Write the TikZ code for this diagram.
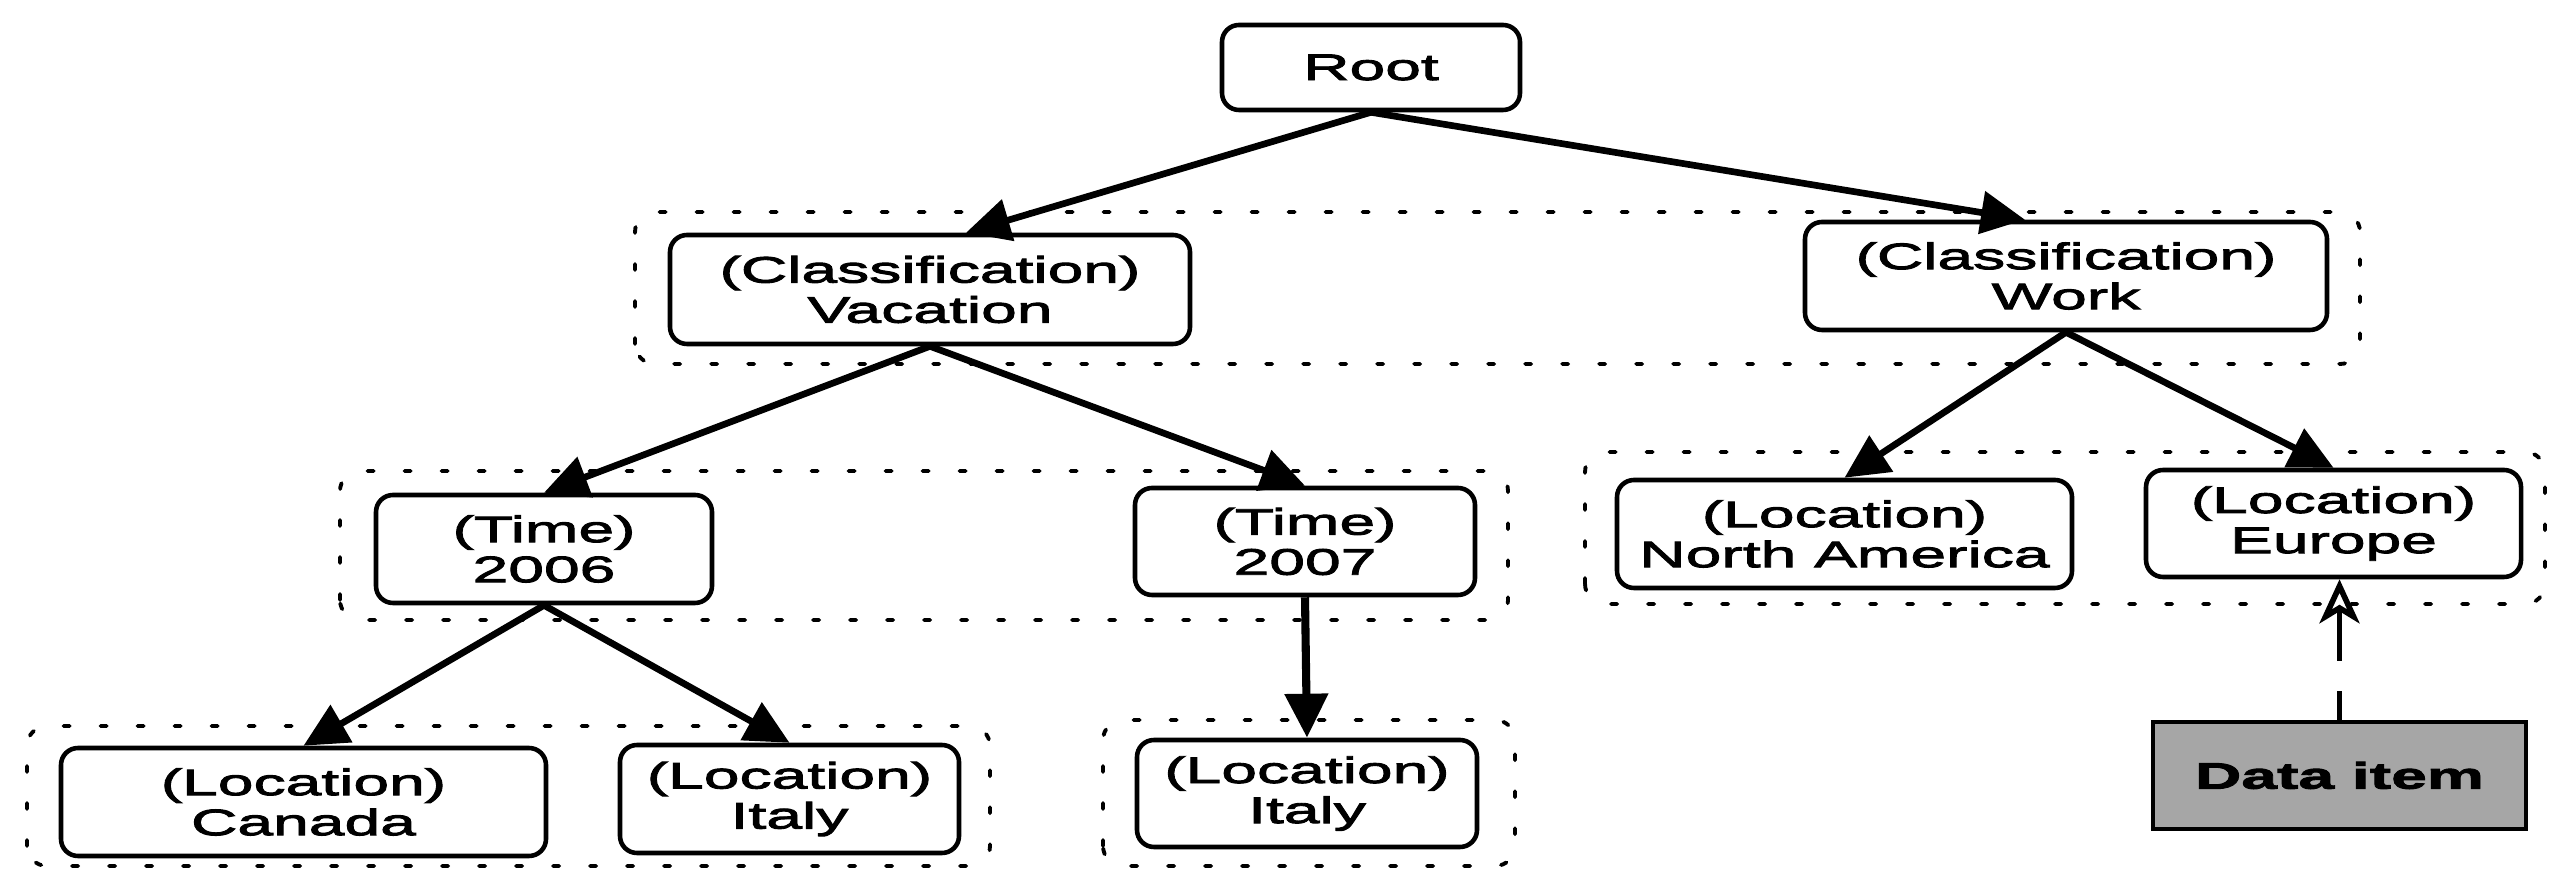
\documentclass[tikz,border=0pt]{standalone}
\usepackage{fontspec}
\newfontfamily\diagfont[FakeStretch=1.74, FakeBold=2.5]{Liberation Sans}
\usetikzlibrary{arrows.meta}
\begin{document}
\begin{tikzpicture}[
  box/.style={draw, rounded corners=0.17cm, line width=1.3pt, align=center,
    inner sep=0pt, font=\diagfont\fontsize{10.5}{11.4}\selectfont},
  databox/.style={draw, line width=1.3pt, fill=black!35, align=center,
    inner sep=0pt, font=\diagfont\fontsize{10.5}{11.4}\selectfont\bfseries},
  group/.style={draw, line width=1.1pt, rounded corners=0.2cm, line cap=round,
    dash pattern=on 0.06cm off 0.31cm},
  arr/.style={line width=1.9pt, -{Triangle[length=0.44cm, width=0.42cm]}},
  dasharr/.style={line width=1.6pt, dash pattern=on 0.29cm off 0.3cm on 0.5cm off 0.3cm,
    -{Stealth[open, length=0.44cm, width=0.40cm, inset=0.12cm]}}
]
\useasboundingbox (0,0) rectangle (25.49,8.69);

% dotted group frames
\draw[group] (6.35,5.05) rectangle (23.60,6.57);
\draw[group] (3.40,2.49) rectangle (15.08,3.98);
\draw[group] (15.85,2.65) rectangle (25.45,4.17);
\draw[group] (0.27,0.03) rectangle (9.90,1.43);
\draw[group] (11.03,0.03) rectangle (15.15,1.49);

% nodes
\node[box, minimum width=2.98cm, minimum height=0.85cm] (root) at (13.71,8.015) {Root};
\node[box, minimum width=5.20cm, minimum height=1.09cm] (vac) at (9.30,5.795) {(Classification)\\Vacation};
\node[box, minimum width=5.22cm, minimum height=1.08cm] (work) at (20.66,5.93) {(Classification)\\Work};
\node[box, minimum width=3.36cm, minimum height=1.08cm] (t2006) at (5.44,3.20) {(Time)\\2006};
\node[box, minimum width=3.40cm, minimum height=1.07cm] (t2007) at (13.05,3.275) {(Time)\\2007};
\node[box, minimum width=4.55cm, minimum height=1.08cm] (na) at (18.445,3.35) {(Location)\\North America};
\node[box, minimum width=3.75cm, minimum height=1.07cm] (eur) at (23.335,3.455) {(Location)\\Europe};
\node[box, minimum width=4.85cm, minimum height=1.08cm] (can) at (3.035,0.67) {(Location)\\Canada};
\node[box, minimum width=3.39cm, minimum height=1.08cm] (ita1) at (7.895,0.70) {(Location)\\Italy};
\node[box, minimum width=3.40cm, minimum height=1.07cm] (ita2) at (13.07,0.755) {(Location)\\Italy};
\node[databox, minimum width=3.73cm, minimum height=1.07cm] (data) at (23.395,0.935) {Data item};

% connectors
\draw[arr] (root.south) -- ([xshift=0.36cm]vac.north);
\draw[arr] (root.south) -- ([xshift=-0.41cm]work.north);
\draw[arr] (vac.south) -- (t2006.north);
\draw[arr] (vac.south) -- (t2007.north);
\draw[arr] (work.south) -- (na.north);
\draw[arr] (work.south) -- (eur.north);
\draw[arr] (t2006.south) -- (can.north);
\draw[arr] (t2006.south) -- (ita1.north);
\draw[arr, line width=2.3pt] (t2007.south) -- (ita2.north);
\draw[dasharr] (data.north) -- (data.north |- eur.south);
\end{tikzpicture}
\end{document}
